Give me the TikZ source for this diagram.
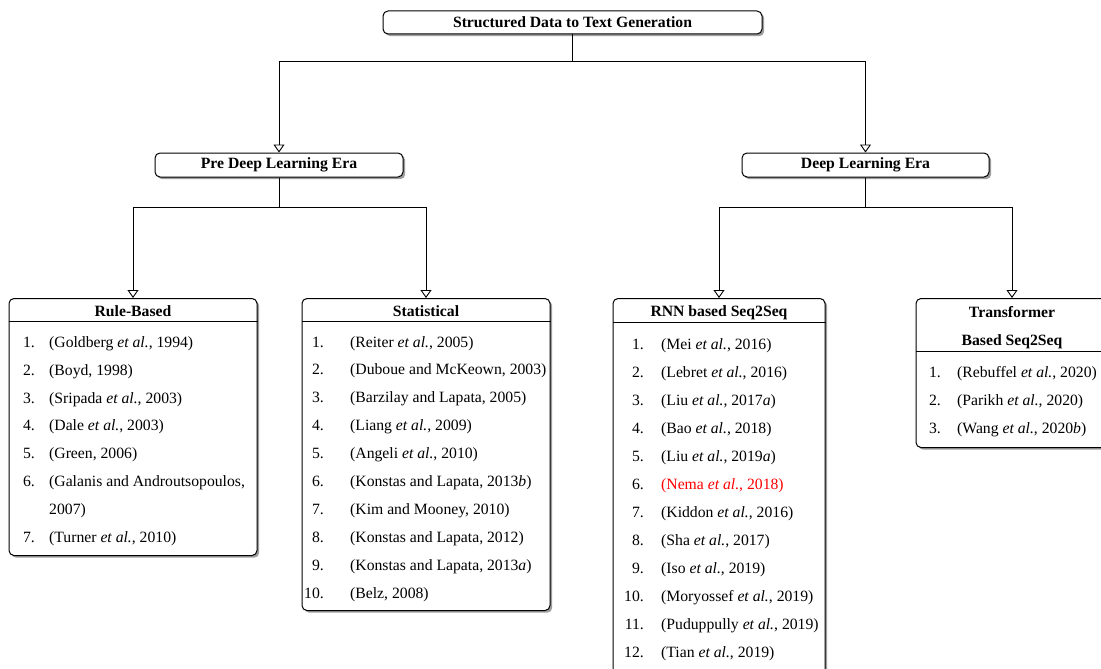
\documentclass[tikz,border=0pt]{standalone}
\usepackage{fontspec}
\setmainfont{Liberation Serif}
\usetikzlibrary{arrows.meta,shadows,calc}

\begin{document}
\begin{tikzpicture}[x=1pt,y=-1pt,
  txt/.style={font=\fontsize{15.7pt}{19pt}\selectfont},
  box/.style={draw, line width=1pt, rounded corners=5pt, fill=white, inner sep=0pt,
    drop shadow={shadow xshift=2.2pt, shadow yshift=-2.2pt, fill=black!70, opacity=0.55}},
  headbox/.style={box, font=\fontsize{15.7pt}{19pt}\selectfont\bfseries},
  ttl/.style={inner sep=0pt, anchor=base, font=\fontsize{15.7pt}{19pt}\selectfont\bfseries},
  num/.style={txt, inner sep=0pt, anchor=base east},
  itm/.style={txt, inner sep=0pt, anchor=base west},
  conn/.style={line width=0.9pt, -{Triangle[open, width=11pt, length=8pt]}},
  rule line/.style={line width=0.9pt}]

\useasboundingbox (0,0) rectangle (1101,669);

% top levels
\node[headbox, minimum width=379pt, minimum height=23pt] (root) at (572.5,22.5) {Structured Data to Text Generation};
\node[headbox, minimum width=248pt, minimum height=24pt] (pre)  at (279,165) {Pre Deep Learning Era};
\node[headbox, minimum width=247pt, minimum height=24pt] (deep) at (865.5,165) {Deep Learning Era};

% category boxes
\node[box, anchor=north, minimum width=248pt, minimum height=257pt] (rule)  at (133,298) {};
\node[box, anchor=north, minimum width=248pt, minimum height=312pt] (stat)  at (426,298) {};
\node[box, anchor=north, minimum width=212pt, minimum height=400pt] (rnn)   at (719,298) {};
\node[box, anchor=north, minimum width=192pt, minimum height=149pt] (trans) at (1012,298) {};

% connectors
\draw[conn] (root.south) -- ++(0,27) -| (pre.north);
\draw[conn] (root.south) -- ++(0,27) -| (deep.north);
\draw[conn] (pre.south) -- ++(0,30) -| (rule.north);
\draw[conn] (pre.south) -- ++(0,30) -| (stat.north);
\draw[conn] (deep.south) -- ++(0,30) -| (rnn.north);
\draw[conn] (deep.south) -- ++(0,30) -| (trans.north);

% headings and separators
\node[ttl] (rule-t)  at (133,316) {Rule-Based};
\node[ttl] (stat-t)  at (426,316) {Statistical};
\node[ttl] (rnn-t)   at (719,316) {RNN based Seq2Seq};
\node[ttl] (trans-t) at (1012,317) {Transformer};
\node[ttl] (trans-u) at (1012,345) {Based Seq2Seq};
\draw[rule line] ($(rule.north west)+(0,23)$) -- ($(rule.north east)+(0,23)$);
\draw[rule line] ($(stat.north west)+(0,23)$) -- ($(stat.north east)+(0,23)$);
\draw[rule line] ($(rnn.north west)+(0,24)$) -- ($(rnn.north east)+(0,24)$);
\draw[rule line] ($(trans.north west)+(0,53)$) -- ($(trans.north east)+(0,53)$);

% rule-based entries
\node[num] (rule-n1) at (35,347) {1.};
\node[itm] (rule-i1) at (49,347) {(Goldberg \textit{et al.}, 1994)};
\node[num] (rule-n2) at (35,375) {2.};
\node[itm] (rule-i2) at (49,375) {(Boyd, 1998)};
\node[num] (rule-n3) at (35,403) {3.};
\node[itm] (rule-i3) at (49,403) {(Sripada \textit{et al.}, 2003)};
\node[num] (rule-n4) at (35,430.5) {4.};
\node[itm] (rule-i4) at (49,430.5) {(Dale \textit{et al.}, 2003)};
\node[num] (rule-n5) at (35,458.5) {5.};
\node[itm] (rule-i5) at (49,458.5) {(Green, 2006)};
\node[num] (rule-n6) at (35,486.5) {6.};
\node[itm] (rule-i6) at (49,486.5) {(Galanis and Androutsopoulos,};
\node[itm] (rule-i6b) at (49,514.5) {2007)};
\node[num] (rule-n7) at (35,542) {7.};
\node[itm] (rule-i7) at (49,542) {(Turner \textit{et al.}, 2010)};

% statistical entries
\foreach \t [count=\i] in {
  {(Reiter \textit{et al.}, 2005)},
  {(Duboue and McKeown, 2003)},
  {(Barzilay and Lapata, 2005)},
  {(Liang \textit{et al.}, 2009)},
  {(Angeli \textit{et al.}, 2010)},
  {(Konstas and Lapata, 2013\textit{b})},
  {(Kim and Mooney, 2010)},
  {(Konstas and Lapata, 2012)},
  {(Konstas and Lapata, 2013\textit{a})},
  {(Belz, 2008)}} {
  \pgfmathsetmacro\yy{347+27.9*(\i-1)}
  \node[num] (stat-n\i) at (324,\yy) {\i.};
  \node[itm] (stat-i\i) at (350,\yy) {\t};
}

% recurrent entries
\foreach \t [count=\i] in {
  {(Mei \textit{et al.}, 2016)},
  {(Lebret \textit{et al.}, 2016)},
  {(Liu \textit{et al.}, 2017\textit{a})},
  {(Bao \textit{et al.}, 2018)},
  {(Liu \textit{et al.}, 2019\textit{a})},
  {\textcolor{red}{(Nema \textit{et al.}, 2018)}},
  {(Kiddon \textit{et al.}, 2016)},
  {(Sha \textit{et al.}, 2017)},
  {(Iso \textit{et al.}, 2019)},
  {(Moryossef \textit{et al.}, 2019)},
  {(Puduppully \textit{et al.}, 2019)},
  {(Tian \textit{et al.}, 2019)}} {
  \pgfmathsetmacro\yy{349+28*(\i-1)}
  \node[num] (rnn-n\i) at (644,\yy) {\i.};
  \node[itm] (rnn-i\i) at (661,\yy) {\t};
}

% transformer entries
\foreach \t [count=\i] in {
  {(Rebuffel \textit{et al.}, 2020)},
  {(Parikh \textit{et al.}, 2020)},
  {(Wang \textit{et al.}, 2020\textit{b})}} {
  \pgfmathsetmacro\yy{377+28*(\i-1)}
  \node[num] (trans-n\i) at (941,\yy) {\i.};
  \node[itm] (trans-i\i) at (957,\yy) {\t};
}
\end{tikzpicture}
\end{document}
